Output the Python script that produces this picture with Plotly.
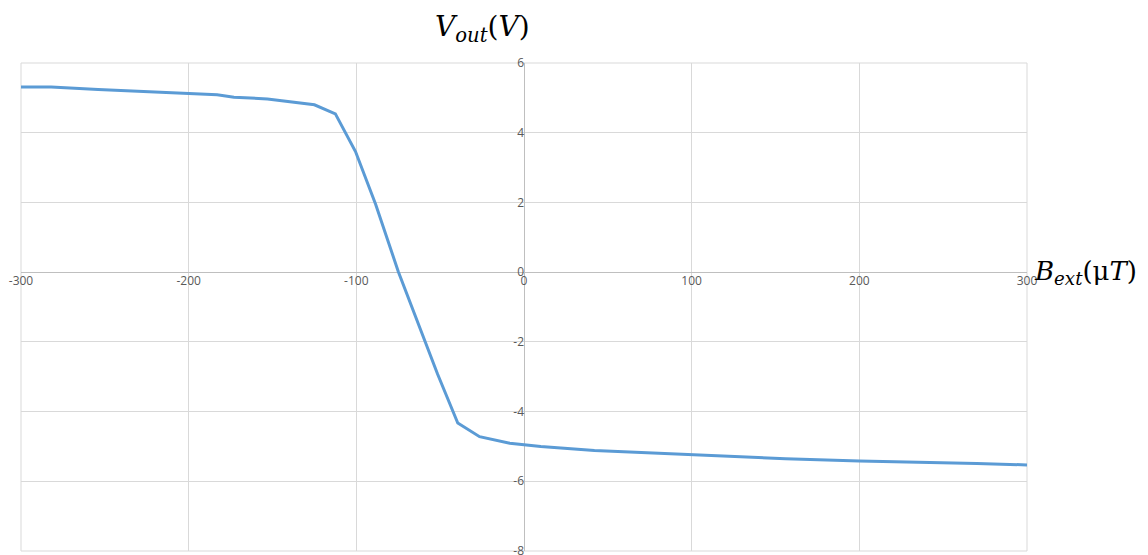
import plotly.graph_objects as go

# Data
b_ext = [-300, -282, -254, -199, -183, -173, -153, -125, -112.5, -100.5, -88.5, -75, -63,
         -51.5, -39.5, -26.5, -8.5, 0, 10, 42, 100, 156, 200, 236, 270, 300]
v_out = [5.31, 5.31, 5.24, 5.12, 5.09, 5.02, 4.97, 4.80, 4.54, 3.46, 1.95, 0.02, -1.50,
         -2.93, -4.33, -4.72, -4.91, -4.96, -5.0, -5.12, -5.24, -5.35, -5.42, -5.45, -5.49, -5.53]

x_ticks = [-300, -200, -100, 0, 100, 200, 300]
y_ticks = [-8, -6, -4, -2, 0, 2, 4, 6]

fig = go.Figure()
fig.add_trace(go.Scatter(x=b_ext, y=v_out, mode="lines",
                         line=dict(color="#5B9BD5", width=3), showlegend=False,
                         cliponaxis=False))

tickfont = dict(family="Open Sans, Noto Sans, sans-serif", size=12, color="#595959")

fig.update_layout(
    width=1140, height=547,
    margin=dict(l=13, r=121, t=55, b=4),
    paper_bgcolor="white", plot_bgcolor="white",
    xaxis=dict(range=[-300, 300], tickvals=x_ticks, ticktext=[str(v) for v in x_ticks],
               showgrid=True, gridcolor="#d9d9d9", gridwidth=1,
               zeroline=True, zerolinecolor="#bfbfbf", zerolinewidth=1,
               showline=False, ticks="", anchor="free", position=8/14,
               tickfont=tickfont, fixedrange=True, automargin=False,
               ticklabeloverflow="allow"),
    yaxis=dict(range=[-8, 6], tickvals=y_ticks, ticktext=[str(v) for v in y_ticks],
               showgrid=True, gridcolor="#d9d9d9", gridwidth=1,
               zeroline=True, zerolinecolor="#bfbfbf", zerolinewidth=1,
               showline=False, ticks="", anchor="free", position=0.5,
               tickfont=tickfont, fixedrange=True, automargin=False,
               ticklabeloverflow="allow"),
    shapes=[dict(type="rect", xref="paper", yref="paper", x0=0, x1=1, y0=0, y1=1,
                 line=dict(color="#d9d9d9", width=1), layer="below")],
    annotations=[
        dict(text="<i>V</i><sub><i>out</i></sub>(<i>V</i>)", xref="paper", yref="paper",
             x=0.459, y=1.07, showarrow=False, xanchor="center", yanchor="middle",
             font=dict(family="DejaVu Serif, Liberation Serif, serif", size=28, color="black")),
        dict(text="<i>B</i><sub><i>ext</i></sub>(μ<i>T</i>)", xref="paper", yref="paper",
             x=1.005, y=8/14, showarrow=False, xanchor="left", yanchor="middle",
             font=dict(family="DejaVu Serif, Liberation Serif, serif", size=26, color="black")),
    ],
)

fig.write_html("out.html")
